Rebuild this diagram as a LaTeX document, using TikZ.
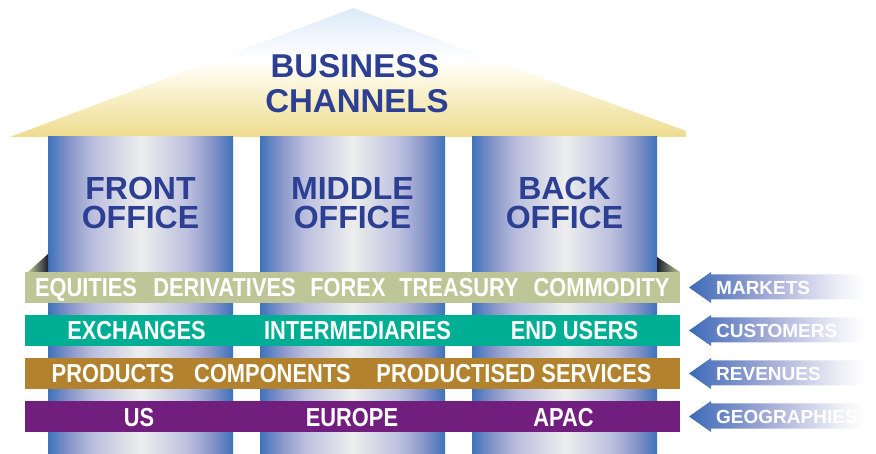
\documentclass[tikz,border=0pt]{standalone}
\usepackage{fontspec}
\setmainfont{Liberation Sans}
\newfontfamily\narrowfont{Liberation Sans}[FakeStretch=0.84]

% palette
\definecolor{titleBlue}{HTML}{2C3F93}
\definecolor{pillarEdge}{HTML}{3E72BA}
\definecolor{pillarMid}{HTML}{8A97CA}
\definecolor{pillarPale}{HTML}{BABEDD}
\definecolor{pillarLight}{HTML}{EEEEEE}
\definecolor{roofGold}{HTML}{EEDC8E}
\definecolor{roofCream}{HTML}{F6EDC0}
\definecolor{roofIvory}{HTML}{FEFBEC}
\definecolor{roofSky}{HTML}{DCE9F8}
\definecolor{bandSage}{HTML}{BEC698}
\definecolor{bandTeal}{HTML}{00AE94}
\definecolor{bandGold}{HTML}{B3822F}
\definecolor{bandPurple}{HTML}{711E7E}
\definecolor{foldDark}{HTML}{1C2030}
\definecolor{arrowA}{HTML}{3C6BB7}
\definecolor{arrowB}{HTML}{6D88C6}
\definecolor{arrowC}{HTML}{A3ABD6}
\definecolor{arrowD}{HTML}{D2D6EC}
\definecolor{arrowE}{HTML}{F0F1F8}

% pillar: blue edges, pale centre
\pgfdeclarehorizontalshading{pillarshade}{100bp}{%
  color(0bp)=(pillarEdge); color(25bp)=(pillarEdge);
  color(31bp)=(pillarMid); color(37bp)=(pillarPale);
  color(50bp)=(pillarLight);
  color(63bp)=(pillarPale); color(69bp)=(pillarMid);
  color(75bp)=(pillarEdge); color(100bp)=(pillarEdge)}
% roof: gold at the eaves, sky blue at the ridge
\pgfdeclareverticalshading{roofshade}{100bp}{%
  color(0bp)=(roofGold); color(25bp)=(roofGold);
  color(39bp)=(roofCream); color(50bp)=(roofIvory);
  color(55bp)=(white); color(75bp)=(roofSky); color(100bp)=(roofSky)}
% pointer arrows fading out to the right
\pgfdeclarehorizontalshading{arrowshade}{100bp}{%
  color(0bp)=(arrowA); color(25bp)=(arrowA);
  color(35bp)=(arrowB); color(46bp)=(arrowC);
  color(58bp)=(arrowD); color(66bp)=(arrowE);
  color(72bp)=(white); color(100bp)=(white)}

\tikzset{
  pillar/.style={shading=pillarshade},
  pillartitle/.style={font=\fontsize{32}{32}\selectfont\bfseries, text=titleBlue,
    anchor=base, inner sep=0pt},
  roofTitle/.style={font=\fontsize{33}{33}\selectfont\bfseries, text=titleBlue,
    anchor=base, inner sep=0pt},
  bandtext/.style={font=\narrowfont\fontsize{26}{26}\selectfont\bfseries, text=white,
    anchor=base, inner sep=0pt},
  pointer/.style={shading=arrowshade},
  pointertext/.style={font=\fontsize{19}{19}\selectfont\bfseries, text=white,
    anchor=base west, inner sep=0pt},
}

\begin{document}
\begin{tikzpicture}[x=1pt,y=-1pt]
\useasboundingbox (0,0) rectangle (876,454);

% roof
\shade[shading=roofshade] (10,137) -- (353,8) -- (686,131) -- (686,137) -- cycle;
\node[roofTitle] (roof1) at (355,78) {BUSINESS};
\node[roofTitle] (roof2) at (357,113) {CHANNELS};

% pillars
\shade[pillar] (48,137) rectangle (233,454);
\shade[pillar] (260,137) rectangle (445,454);
\shade[pillar] (472,137) rectangle (657,454);

\node[pillartitle] (front1) at (140.5,200) {FRONT};
\node[pillartitle] (front2) at (140.5,229) {OFFICE};
\node[pillartitle] (middle1) at (352.5,200) {MIDDLE};
\node[pillartitle] (middle2) at (352.5,229) {OFFICE};
\node[pillartitle] (back1) at (564.5,200) {BACK};
\node[pillartitle] (back2) at (564.5,229) {OFFICE};

% folded ends of the top band
\shade[left color=bandSage, right color=foldDark] (28,272) -- (48,254) -- (48,272) -- cycle;
\shade[left color=foldDark, right color=bandSage] (657,257) -- (657,272) -- (680,272) -- cycle;

% bands
\fill[bandSage]   (25,272) rectangle (680,303);
\fill[bandTeal]   (25,315) rectangle (680,346);
\fill[bandGold]   (25,358) rectangle (680,389);
\fill[bandPurple] (25,401) rectangle (680,432);

\node[bandtext] (equities)    at (86,297)    {EQUITIES};
\node[bandtext] (derivatives) at (224.5,297) {DERIVATIVES};
\node[bandtext] (forex)       at (348,297)   {FOREX};
\node[bandtext] (treasury)    at (459,297)   {TREASURY};
\node[bandtext] (commodity)   at (601.5,297) {COMMODITY};

\node[bandtext] (exchanges)     at (136.5,339.5) {EXCHANGES};
\node[bandtext] (intermediaries) at (357.5,339.5) {INTERMEDIARIES};
\node[bandtext] (endusers)      at (574.5,339.5) {END USERS};

\node[bandtext] (products)   at (113,383)   {PRODUCTS};
\node[bandtext] (components) at (272.5,383) {COMPONENTS};
\node[bandtext] (services)   at (514,383)   {PRODUCTISED SERVICES};

\node[bandtext] (us)     at (139,427)   {US};
\node[bandtext] (europe) at (352,427)   {EUROPE};
\node[bandtext] (apac)   at (563.5,427) {APAC};

% pointers
\foreach \c in {287.5,330.5,373.5,416.5}{
  \shade[pointer] (689,\c) -- (711,\c-15.5) -- (711,\c-13) -- (876,\c-13)
    -- (876,\c+12) -- (711,\c+12) -- (711,\c+15.5) -- cycle;
}
\node[pointertext] (markets)     at (716,294.5) {MARKETS};
\node[pointertext] (customers)   at (716,337.5) {CUSTOMERS};
\node[pointertext] (revenues)    at (716,380.5) {REVENUES};
\node[pointertext] (geographies) at (716,423.5) {GEOGRAPHIES};
\end{tikzpicture}
\end{document}
